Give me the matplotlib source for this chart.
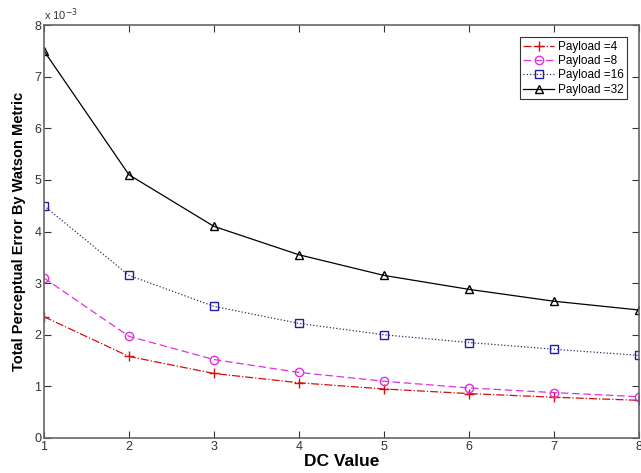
import numpy as np
import matplotlib.pyplot as plt

dc = [1, 2, 3, 4, 5, 6, 7, 8]
# values in units of 1e-3
p4 = [2.35, 1.58, 1.25, 1.07, 0.95, 0.86, 0.79, 0.73]
p8 = [3.10, 1.97, 1.52, 1.27, 1.10, 0.97, 0.88, 0.80]
p16 = [4.50, 3.15, 2.55, 2.22, 2.00, 1.85, 1.72, 1.60]
p32 = [7.50, 5.10, 4.10, 3.55, 3.15, 2.88, 2.65, 2.48]
yticks = [0, 1, 2, 3, 4, 5, 6, 7, 8]

plt.rcParams['font.family'] = ['Liberation Sans', 'DejaVu Sans']

fig = plt.figure(figsize=(6.41, 4.73), dpi=100)
ax = fig.add_axes([0.0686, 0.074, 0.928, 0.873])

ax.plot(dc, p4, color='#d01010', linestyle='-.', marker='+', markersize=7,
        linewidth=0.9, label='Payload =4')
ax.plot(dc, p8, color='#e030e0', linestyle='--', dashes=(6, 3), marker='o',
        markersize=6, markerfacecolor='none', linewidth=0.9, label='Payload =8')
ax.plot(dc, p16, color='#303060', linestyle=':', marker='s', markersize=6,
        markerfacecolor='none', markeredgecolor='#2020a0', linewidth=0.9,
        label='Payload =16')
ax.plot(dc, p32, color='black', linestyle='-', marker='^', markersize=6,
        markerfacecolor='none', linewidth=0.9, label='Payload =32')

ax.set_xlim(1, 8)
ax.set_ylim(0, 8)
ax.set_xticks(dc)
ax.set_yticks(yticks)
ax.tick_params(direction='in', top=True, right=True, length=5, width=0.8,
               labelsize=9, colors='#333333', pad=2)
for lab in ax.get_xticklabels() + ax.get_yticklabels():
    lab.set_family(['Liberation Sans Narrow', 'Liberation Sans'])
for s in ax.spines.values():
    s.set_color('#666666')
    s.set_linewidth(1.2)

ax.text(0, 1.005, r'x 10$^{-3}$', transform=ax.transAxes, fontsize=8,
        ha='left', va='bottom', color='#333333')

ax.set_ylabel('Total Perceptual Error By Watson Metric', fontsize=10.5,
              fontweight='bold', labelpad=6)
ax.set_xlabel('DC Value', fontsize=12.5, fontweight='heavy', labelpad=1)

leg = ax.legend(loc='upper right', bbox_to_anchor=(0.99, 0.985), fontsize=8.5,
                frameon=True, fancybox=False, edgecolor='black',
                handlelength=2.6, borderpad=0.3, labelspacing=0.2,
                handletextpad=0.3)
leg.get_frame().set_linewidth(0.8)

fig.savefig('out.png', dpi=100)
